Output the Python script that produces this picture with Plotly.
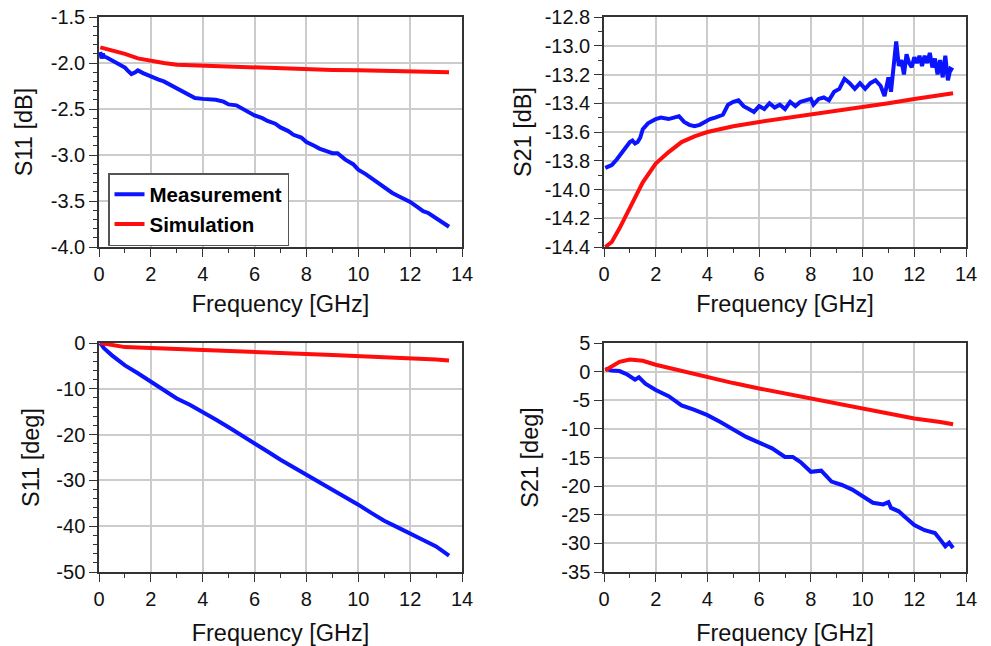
import plotly.graph_objects as go

# ---------------- data ----------------
# S11 [dB]
s11db_meas_f = [0.05, 0.1, 0.15, 0.2, 0.3, 0.5, 0.7, 0.9, 1.0, 1.1, 1.25, 1.4, 1.5, 1.7, 2.0, 2.3, 2.5, 2.7, 3.0, 3.2, 3.5, 3.7, 4.0, 4.3, 4.5, 4.8, 5.0, 5.3, 5.5, 5.8, 6.0, 6.3, 6.5, 6.8, 7.0, 7.3, 7.5, 7.8, 8.0, 8.3, 8.5, 8.8, 9.0, 9.2, 9.5, 9.8, 10.0, 10.3, 10.5, 10.8, 11.0, 11.3, 11.5, 11.8, 12.0, 12.3, 12.5, 12.7, 13.0, 13.2, 13.5]
s11db_meas = [-1.88, -1.95, -1.90, -1.93, -1.94, -1.97, -2.00, -2.03, -2.05, -2.08, -2.12, -2.10, -2.08, -2.11, -2.15, -2.18, -2.20, -2.23, -2.28, -2.31, -2.36, -2.38, -2.39, -2.39, -2.40, -2.42, -2.45, -2.46, -2.49, -2.53, -2.57, -2.60, -2.63, -2.66, -2.70, -2.74, -2.78, -2.81, -2.86, -2.90, -2.93, -2.96, -2.98, -2.98, -3.05, -3.10, -3.16, -3.21, -3.25, -3.31, -3.36, -3.41, -3.44, -3.48, -3.51, -3.57, -3.61, -3.63, -3.69, -3.72, -3.78]
s11db_sim_f = [0.05, 0.5, 1.0, 1.5, 2.0, 2.5, 3.0, 4.0, 5.0, 6.0, 7.0, 8.0, 9.0, 10.0, 11.0, 12.0, 13.0, 13.5]
s11db_sim = [-1.83, -1.86, -1.90, -1.95, -1.98, -2.00, -2.02, -2.03, -2.045, -2.055, -2.06, -2.07, -2.075, -2.08, -2.085, -2.09, -2.10, -2.10]

# S21 [dB]
s21db_meas_f = [0.05, 0.2, 0.3, 0.5, 0.7, 0.9, 1.0, 1.1, 1.2, 1.3, 1.4, 1.5, 1.7, 1.9, 2.0, 2.2, 2.5, 2.7, 2.9, 3.1, 3.3, 3.5, 3.7, 3.9, 4.1, 4.3, 4.5, 4.6, 4.8, 5.0, 5.2, 5.4, 5.6, 5.8, 6.0, 6.2, 6.4, 6.6, 6.8, 7.0, 7.2, 7.4, 7.6, 7.8, 8.0, 8.1, 8.3, 8.5, 8.7, 8.9, 9.1, 9.3, 9.5, 9.7, 9.9, 10.1, 10.3, 10.5, 10.7, 10.85, 11.0, 11.1, 11.2, 11.3, 11.4, 11.5, 11.6, 11.7, 11.8, 11.9, 12.0, 12.1, 12.2, 12.3, 12.4, 12.5, 12.6, 12.7, 12.8, 12.9, 13.0, 13.1, 13.2, 13.3, 13.4, 13.5]
s21db_meas = [-13.85, -13.84, -13.83, -13.79, -13.74, -13.70, -13.67, -13.66, -13.68, -13.67, -13.64, -13.58, -13.54, -13.52, -13.51, -13.50, -13.51, -13.50, -13.49, -13.53, -13.55, -13.56, -13.55, -13.53, -13.51, -13.50, -13.49, -13.48, -13.41, -13.39, -13.38, -13.42, -13.44, -13.46, -13.42, -13.44, -13.40, -13.43, -13.41, -13.44, -13.39, -13.42, -13.39, -13.38, -13.37, -13.41, -13.37, -13.36, -13.38, -13.32, -13.30, -13.23, -13.26, -13.30, -13.26, -13.30, -13.26, -13.24, -13.28, -13.35, -13.22, -13.32, -13.17, -12.97, -13.14, -13.10, -13.20, -13.06, -13.12, -13.15, -13.08, -13.12, -13.07, -13.14, -13.07, -13.12, -13.05, -13.15, -13.09, -13.20, -13.10, -13.22, -13.07, -13.24, -13.16, -13.17]
s21db_sim_f = [0.05, 0.3, 0.6, 1.0, 1.5, 2.0, 2.5, 3.0, 3.5, 4.0, 5.0, 6.0, 7.0, 8.0, 9.0, 10.0, 11.0, 12.0, 13.0, 13.5]
s21db_sim = [-14.40, -14.365, -14.27, -14.13, -13.95, -13.82, -13.74, -13.67, -13.63, -13.60, -13.56, -13.53, -13.505, -13.48, -13.455, -13.43, -13.40, -13.37, -13.345, -13.33]

# S11 [deg]
s11deg_meas_f = [0.05, 0.2, 0.5, 1.0, 1.5, 2.0, 2.5, 3.0, 3.5, 4.0, 4.5, 5.0, 5.5, 6.0, 6.5, 7.0, 7.5, 8.0, 8.5, 9.0, 9.5, 10.0, 10.5, 11.0, 11.5, 12.0, 12.5, 13.0, 13.5]
s11deg_meas = [0.0, -1.2, -2.7, -4.9, -6.6, -8.5, -10.4, -12.1, -13.5, -15.0, -16.7, -18.4, -20.1, -21.9, -23.7, -25.5, -27.1, -28.8, -30.5, -32.1, -33.7, -35.3, -37.1, -38.8, -40.2, -41.5, -43.0, -44.4, -46.4]
s11deg_sim_f = [0.05, 0.5, 1.0, 2.0, 3.0, 4.0, 5.0, 6.0, 7.0, 8.0, 9.0, 10.0, 11.0, 12.0, 13.0, 13.5]
s11deg_sim = [0.0, -0.5, -0.9, -1.1, -1.35, -1.6, -1.8, -2.0, -2.2, -2.4, -2.6, -2.8, -3.05, -3.3, -3.6, -3.8]

# S21 [deg]
s21deg_meas_f = [0.05, 0.3, 0.6, 0.9, 1.2, 1.35, 1.6, 2.0, 2.5, 3.0, 3.5, 4.0, 4.5, 5.0, 5.5, 6.0, 6.5, 6.8, 7.0, 7.3, 7.6, 8.0, 8.4, 8.8, 9.2, 9.6, 10.0, 10.4, 10.8, 11.0, 11.1, 11.4, 11.6, 12.0, 12.4, 12.8, 13.0, 13.2, 13.35, 13.5]
s21deg_meas = [0.5, 0.2, 0.1, -0.5, -1.4, -1.0, -2.1, -3.2, -4.3, -5.9, -6.7, -7.6, -8.8, -10.2, -11.4, -12.4, -13.4, -14.3, -14.9, -14.9, -15.8, -17.5, -17.3, -19.2, -19.8, -20.6, -21.8, -22.9, -23.2, -22.8, -23.8, -24.4, -25.2, -26.8, -27.7, -28.2, -29.3, -30.5, -29.9, -30.8]
s21deg_sim_f = [0.05, 0.3, 0.6, 1.0, 1.5, 2.0, 2.5, 3.0, 4.0, 5.0, 6.0, 7.0, 8.0, 9.0, 10.0, 11.0, 12.0, 13.0, 13.5]
s21deg_sim = [0.24, 0.9, 1.7, 2.1, 1.9, 1.2, 0.65, 0.1, -1.0, -2.0, -2.95, -3.8, -4.7, -5.55, -6.4, -7.3, -8.2, -8.8, -9.2]

x_ticks = [0, 2, 4, 6, 8, 10, 12, 14]
y_ticks_s11db = [-4.0, -3.5, -3.0, -2.5, -2.0, -1.5]
y_ticks_s21db = [-14.4, -14.2, -14.0, -13.8, -13.6, -13.4, -13.2, -13.0, -12.8]
y_ticks_s11deg = [-50, -40, -30, -20, -10, 0]
y_ticks_s21deg = [-35, -30, -25, -20, -15, -10, -5, 0, 5]

BLUE = "#0a14ff"
RED = "#ff0d0d"
FONT = "Liberation Sans, Arial, sans-serif"

fig = go.Figure()

panels = [
    # (xaxis, yaxis, meas_f, meas, sim_f, sim, yrange, ticks, fmt, minor, title, showlegend)
    ("x", "y", s11db_meas_f, s11db_meas, s11db_sim_f, s11db_sim, [-4.0, -1.5], y_ticks_s11db, "{:.1f}", 0.1, "S11 [dB]", True),
    ("x2", "y2", s21db_meas_f, s21db_meas, s21db_sim_f, s21db_sim, [-14.4, -12.8], y_ticks_s21db, "{:.1f}", 0.1, "S21 [dB]", False),
    ("x3", "y3", s11deg_meas_f, s11deg_meas, s11deg_sim_f, s11deg_sim, [-50, 0], y_ticks_s11deg, "{:d}", 2, "S11 [deg]", False),
    ("x4", "y4", s21deg_meas_f, s21deg_meas, s21deg_sim_f, s21deg_sim, [-35, 5], y_ticks_s21deg, "{:d}", None, "S21 [deg]", False),
]

for p in panels:
    xa, ya, mf, mv, sf, sv = p[:6]
    sl = p[11]
    fig.add_trace(go.Scatter(x=mf, y=mv, mode="lines", name="Measurement",
                             line=dict(color=BLUE, width=4), xaxis=xa, yaxis=ya,
                             showlegend=sl))
    fig.add_trace(go.Scatter(x=sf, y=sv, mode="lines", name="Simulation",
                             line=dict(color=RED, width=4), xaxis=xa, yaxis=ya,
                             showlegend=sl))

xdom_l = [99 / 991, 462 / 991]
xdom_r = [604 / 991, 966 / 991]
ydom_t = [1 - 247 / 646, 1 - 17 / 646]
ydom_b = [1 - 572 / 646, 1 - 343 / 646]

AX = "#333333"
GRID = "#cccccc"
TXT = "#111111"

def xaxis_cfg(dom, anchor, standoff):
    return dict(domain=dom, anchor=anchor, range=[0, 14], tickvals=x_ticks,
                ticktext=[str(v) for v in x_ticks], automargin=False,
                ticks="outside", ticklen=8, tickcolor=AX, showline=True,
                linecolor=AX, linewidth=1.5, mirror=True, showgrid=True,
                gridcolor=GRID, gridwidth=1.5, zeroline=False,
                minor=dict(dtick=1, ticks="outside", ticklen=4, tickcolor=AX, showgrid=False),
                tickfont=dict(size=20, color=TXT, family=FONT),
                title=dict(text="Frequency [GHz]", font=dict(size=23.5, color=TXT, family=FONT), standoff=standoff))

def yaxis_cfg(dom, anchor, yr, tv, fmt, mn, title, standoff):
    d = dict(domain=dom, anchor=anchor, range=yr, tickvals=tv,
             ticktext=[fmt.format(v).replace("\u2212", "-") for v in tv], automargin=False,
             ticks="outside", ticklen=8, tickcolor=AX, showline=True,
             linecolor=AX, linewidth=1.5, mirror=True, showgrid=True,
             gridcolor=GRID, gridwidth=1.5, zeroline=False,
             tickfont=dict(size=20, color=TXT, family=FONT),
             title=dict(text=title, font=dict(size=23.5, color=TXT, family=FONT), standoff=standoff))
    if mn is not None:
        d["minor"] = dict(dtick=mn, tick0=yr[0], ticks="outside", ticklen=4, tickcolor=AX, showgrid=False)
    return d

fig.update_layout(
    width=991, height=646,
    margin=dict(l=0, r=0, t=0, b=0, autoexpand=False),
    paper_bgcolor="white", plot_bgcolor="white",
    font=dict(family=FONT),
    xaxis=xaxis_cfg(xdom_l, "y", 12),
    yaxis=yaxis_cfg(ydom_t, "x", *panels[0][6:11], 12),
    xaxis2=xaxis_cfg(xdom_r, "y2", 12),
    yaxis2=yaxis_cfg(ydom_t, "x2", *panels[1][6:11], 6),
    xaxis3=xaxis_cfg(xdom_l, "y3", 17),
    yaxis3=yaxis_cfg(ydom_b, "x3", *panels[2][6:11], 10),
    xaxis4=xaxis_cfg(xdom_r, "y4", 17),
    yaxis4=yaxis_cfg(ydom_b, "x4", *panels[3][6:11], 16),
    legend=dict(x=108 / 991, y=1 - 173 / 646, xanchor="left", yanchor="top",
                bgcolor="white", bordercolor="#555", borderwidth=1.5,
                font=dict(size=20.5, color="#000", family=FONT, weight="bold"),
                itemwidth=30, tracegroupgap=0),
    showlegend=True,
)

fig.write_html("out.html")
